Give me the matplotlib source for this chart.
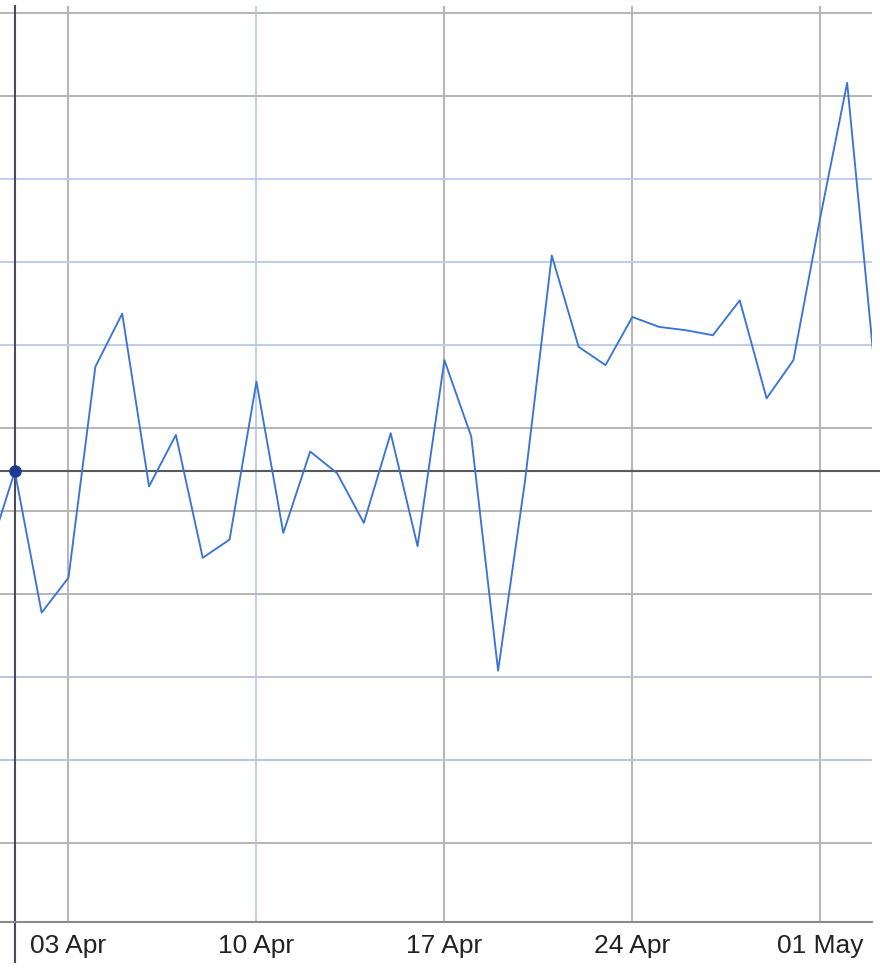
import numpy as np
import pandas as pd
import matplotlib
matplotlib.use('Agg')
import matplotlib.pyplot as plt
import matplotlib.dates as mdates

plt.rcParams['font.family'] = ['Liberation Sans', 'DejaVu Sans']

#> Data (daily values, no y labels shown)
dates = pd.date_range('2023-03-31', '2023-05-03', freq='D')
values = [117.3, 122.4, 113.9, 116.0, 128.7, 131.9, 121.5, 124.6, 117.2, 118.3,
          127.8, 118.7, 123.6, 122.3, 119.3, 124.7, 117.9, 129.1, 124.5, 110.4,
          121.8, 135.4, 129.9, 128.8, 131.7, 131.1, 130.9, 130.6, 132.7, 126.8,
          129.1, 137.7, 145.8, 129.0]
tickDates = pd.to_datetime(['2023-04-03', '2023-04-10', '2023-04-17', '2023-04-24', '2023-05-01'])
yTicks = [100, 105, 110, 115, 120, 125, 130, 135, 140, 145, 150]
blueY = [130, 135, 140]
blueYMuted = [105, 110]
blueX = ['2023-04-10']
hoverDate = pd.Timestamp('2023-04-01')

fig = plt.figure(figsize=(8.8, 9.76), dpi=100)
ax = fig.add_axes([0, 1 - 922 / 976, 872 / 880, (922 - 6) / 976])

ax.plot(dates, values, color='#3a74d6', linewidth=1.35, zorder=3)

# crosshair + marker on the hovered point
hoverValue = values[list(dates).index(hoverDate)]
ax.axhline(hoverValue, xmin=0, xmax=880 / 872, color='#5a5a5a', linewidth=1.5, clip_on=False, zorder=2)
ax.axvline(hoverDate, ymin=-(962 - 922) / 916, ymax=1, color='#4a4a5a', linewidth=1.5, clip_on=False, zorder=2)
ax.plot([hoverDate], [hoverValue], 'o', color='#1c3c94', markersize=8, zorder=4)

# limits
apr3 = mdates.date2num(pd.Timestamp('2023-04-03'))
pxPerDay = 26.85
ax.set_xlim(apr3 - 68.5 / pxPerDay, apr3 + (872 - 68.5) / pxPerDay)
ax.set_ylim(100 - 78.5 / 83.05 * 5, 100 + 837.5 / 83.05 * 5)

ax.set_xticks(tickDates)
ax.xaxis.set_major_formatter(mdates.DateFormatter('%d %b'))
ax.set_yticks(yTicks)
ax.set_yticklabels([])
ax.tick_params(axis='both', length=0)
ax.tick_params(axis='x', labelsize=19, labelcolor='#222222', pad=9)

ax.grid(True, color='#b6b6b6', linewidth=1.4, zorder=0)
for line, y in zip(ax.yaxis.get_gridlines(), yTicks):
    if y in blueY:
        line.set_color('#bfcdec')
    elif y in blueYMuted:
        line.set_color('#bcc4da')
for line, d in zip(ax.xaxis.get_gridlines(), tickDates):
    if d.strftime('%Y-%m-%d') in blueX:
        line.set_color('#bfcdec')

for side in ['top', 'right', 'left']:
    ax.spines[side].set_visible(False)
ax.spines['bottom'].set_color('#8a8a8a')
ax.spines['bottom'].set_linewidth(1.5)
ax.set_axisbelow(True)

fig.savefig('out.png', dpi=100, facecolor='white')
